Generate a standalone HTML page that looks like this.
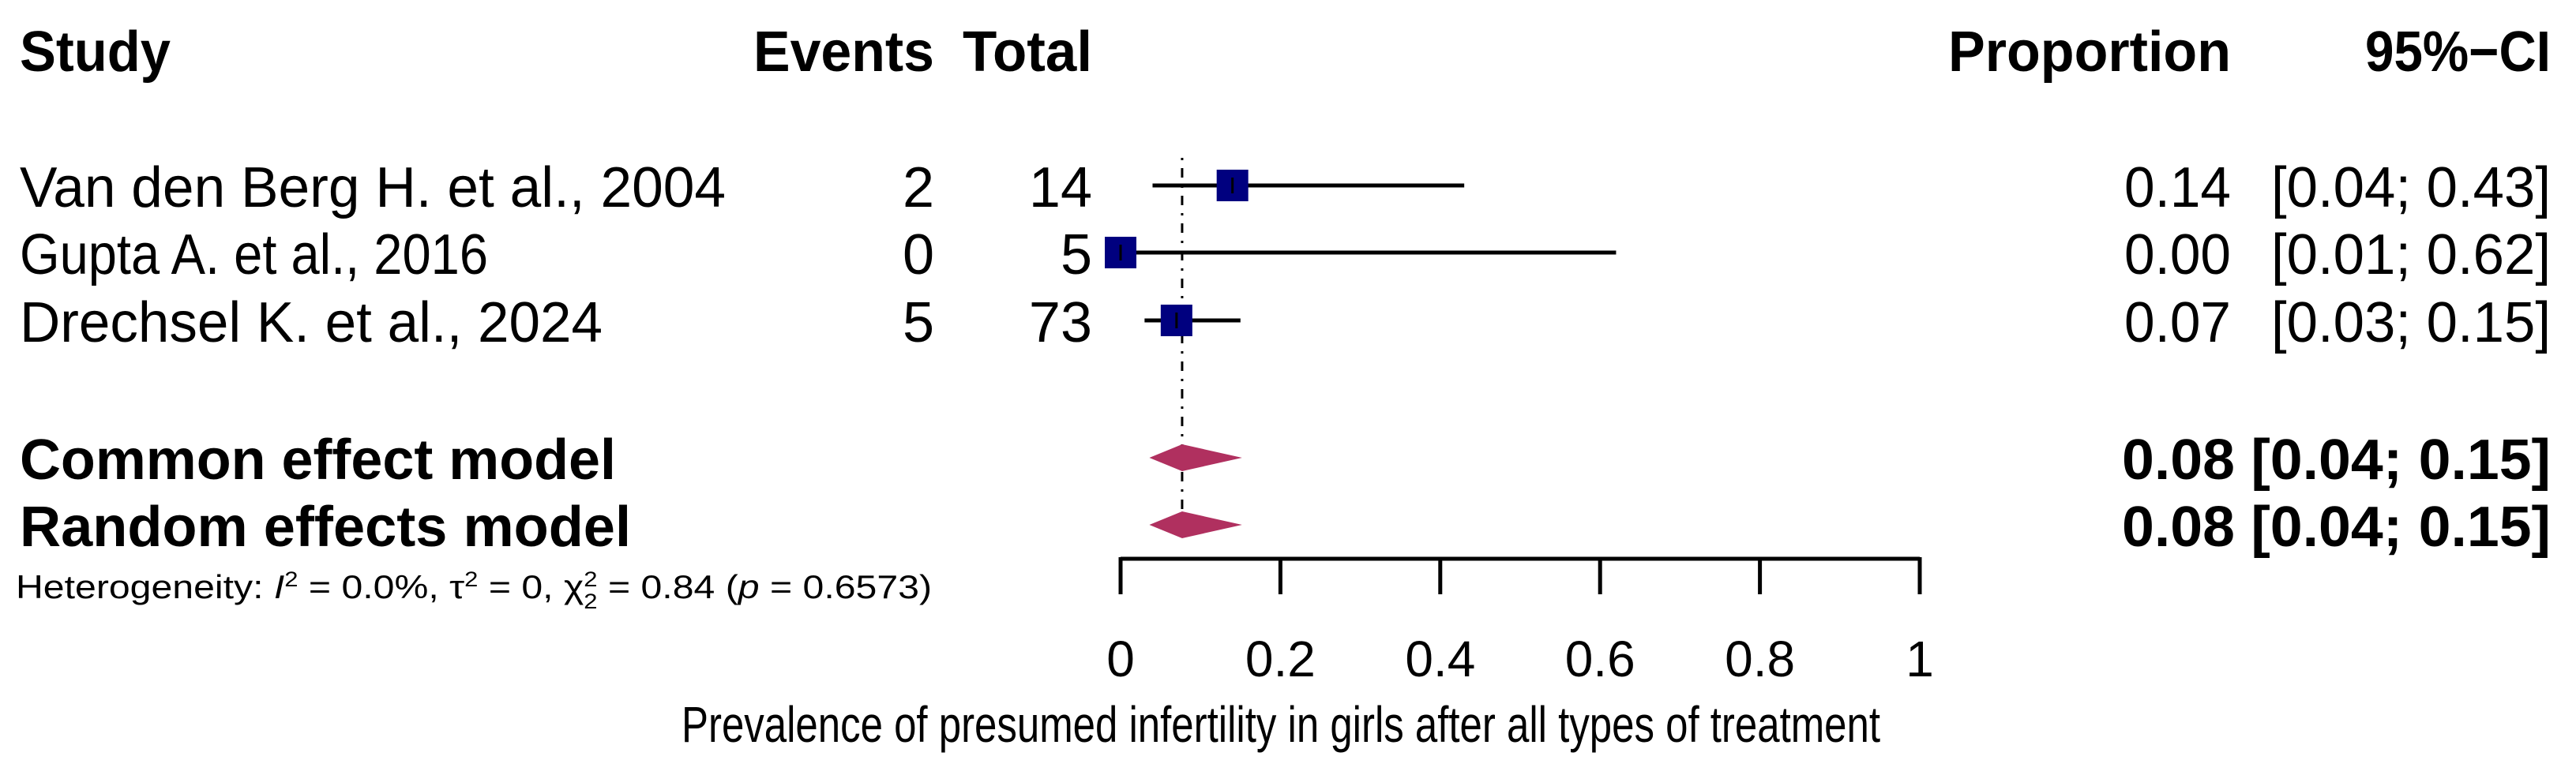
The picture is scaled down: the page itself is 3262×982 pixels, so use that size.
<!DOCTYPE html>
<html><head><meta charset="utf-8"><style>
html,body{margin:0;padding:0;background:#fff;}
svg{display:block;font-family:"Liberation Sans",Arial,sans-serif;}
</style></head><body>
<svg id="plot" width="3262" height="982" viewBox="0 0 3262 982" xmlns="http://www.w3.org/2000/svg">
<g id="hdr" font-weight="bold" font-size="72" fill="#000">
<text x="25" y="90" textLength="191" lengthAdjust="spacingAndGlyphs">Study</text>
<text x="1183" y="90" text-anchor="end" textLength="229" lengthAdjust="spacingAndGlyphs">Events</text>
<text x="1383" y="90" text-anchor="end" textLength="164" lengthAdjust="spacingAndGlyphs">Total</text>
<text x="2825" y="90" text-anchor="end" textLength="358" lengthAdjust="spacingAndGlyphs">Proportion</text>
<text x="3230" y="90" text-anchor="end" textLength="235" lengthAdjust="spacingAndGlyphs">95%−CI</text>
</g>
<g id="marks"></g>
<g id="txt"></g>
</svg>
<script>
const studies=["Van den Berg H. et al., 2004","Gupta A. et al., 2016","Drechsel K. et al., 2024"];
const events=[2,0,5];
const totals=[14,5,73];
const est=[0.14,0.00,0.07];
const lower=[0.04,0.00,0.03];
const upper=[0.43,0.62,0.15];
const estLabels=["0.14","0.00","0.07"];
const ciLabels=["[0.04; 0.43]","[0.01; 0.62]","[0.03; 0.15]"];
const models=["Common effect model","Random effects model"];
const modelEst=[0.077,0.077];
const modelLo=[0.036,0.036];
const modelHi=[0.152,0.152];
const modelLabels=["0.08 [0.04; 0.15]","0.08 [0.04; 0.15]"];
const ticks=[0,0.2,0.4,0.6,0.8,1];
const tickLabels=["0","0.2","0.4","0.6","0.8","1"];

const NS="http://www.w3.org/2000/svg";
const X0=1419,X1=2431;
function xs(v){return X0+(X1-X0)*v;}
const rowY=[235,320,406], modelY=[580,665];
const studyW=[894,593,738], modelW=[755,774];
const marks=document.getElementById('marks'), txt=document.getElementById('txt');
function mk(tag,attrs,parent){const e=document.createElementNS(NS,tag);for(const k in attrs)e.setAttribute(k,attrs[k]);parent.appendChild(e);return e;}
function tx(str,x,y,anchor,size,bold,name,len){const e=mk('text',{x:x,y:y,'text-anchor':anchor,'font-size':size,'font-weight':bold?'bold':'normal'},txt);e.textContent=str;
if(len){e.setAttribute('textLength',len);e.setAttribute('lengthAdjust','spacingAndGlyphs');}


return e;}

const ref=mk('line',{x1:xs(modelEst[1]),x2:xs(modelEst[1]),y1:200,y2:modelY[1]-17,stroke:'#000','stroke-width':3,'stroke-dasharray':'3 10 12 10'},marks);



for(let i=0;i<studies.length;i++){
  const y=rowY[i];
  const l=mk('line',{x1:xs(lower[i]),x2:xs(upper[i]),y1:y,y2:y,stroke:'#000','stroke-width':5},marks);
  
  
  const s=40;
  const r=mk('rect',{x:xs(est[i])-s/2,y:y-s/2,width:s,height:s,fill:'#00007f'},marks);
  
  
  const c=mk('line',{x1:xs(est[i]),x2:xs(est[i]),y1:y-10,y2:y+10,stroke:'#000','stroke-width':3},marks);
  
  
  const b=y+27;
  tx(studies[i],25,b,'start',72,false,'study-name-'+(i+1),studyW[i]);
  tx(String(events[i]),1183,b,'end',72,false,'events-'+(i+1));
  tx(String(totals[i]),1383,b,'end',72,false,'total-'+(i+1));
  tx(estLabels[i],2825,b,'end',72,false,'proportion-'+(i+1),135);
  tx(ciLabels[i],3230,b,'end',72,false,'ci-'+(i+1),354);
}
for(let i=0;i<models.length;i++){
  const y=modelY[i];
  const d=mk('polygon',{points:`${xs(modelLo[i])},${y} ${xs(modelEst[i])},${y-17} ${xs(modelHi[i])},${y} ${xs(modelEst[i])},${y+17}`,fill:'#b0305f'},marks);
  
  
  tx(models[i],25,y+27,'start',72,true,'model-name-'+(i+1),modelW[i]);
  tx(modelLabels[i],3230,y+27,'end',72,true,'model-estimate-'+(i+1),543);
}
const h=mk('text',{x:20,y:758,'font-size':42,textLength:1160,lengthAdjust:'spacingAndGlyphs'},txt);
h.innerHTML='Heterogeneity: <tspan font-style="italic">I</tspan><tspan dy="-15" font-size="27">2</tspan><tspan dy="15"> = 0.0%, τ</tspan><tspan dy="-15" font-size="27">2</tspan><tspan dy="15"> = 0, χ</tspan><tspan dy="-15" font-size="27">2</tspan><tspan dx="-15" dy="28" font-size="27">2</tspan><tspan dy="-13"> = 0.84 (</tspan><tspan font-style="italic">p</tspan> = 0.6573)';


const ax=mk('line',{x1:xs(0),x2:xs(1),y1:708,y2:708,stroke:'#000','stroke-width':5},marks);


for(let i=0;i<ticks.length;i++){
  const t=mk('line',{x1:xs(ticks[i]),x2:xs(ticks[i]),y1:706,y2:753,stroke:'#000','stroke-width':5},marks);
  
  
  tx(tickLabels[i],xs(ticks[i]),857,'middle',64,false,'x-tick-label-'+i);
}
tx('Prevalence of presumed infertility in girls after all types of treatment',1622,940,'middle',64,false,'x-axis-title',1518);
</script>
</body></html>
